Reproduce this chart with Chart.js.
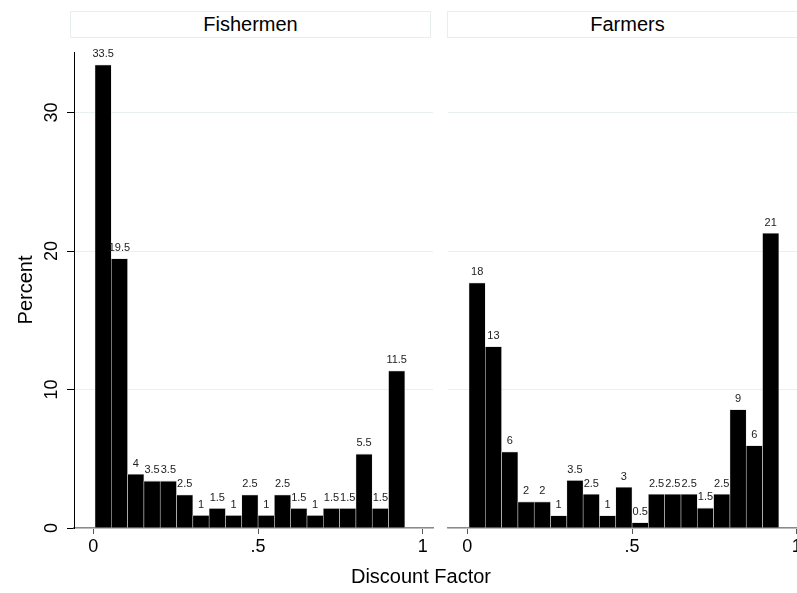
<!DOCTYPE html>
<html>
<head>
<meta charset="utf-8">
<script src="https://cdn.jsdelivr.net/npm/chart.js@4/dist/chart.umd.min.js"></script>
<style>
    html, body { margin: 0; padding: 0; background: #fff; }
    #stage {
        position: relative;
        width: 797px;
        height: 593px;
        overflow: hidden;
        background: #fff;
        font-family: 'Liberation Sans', Arial, sans-serif;
    }
    #stage canvas { position: absolute; top: 40px; }
    .panel-title {
        position: absolute;
        top: 11px;
        height: 25px;
        width: 359px;
        border: 1px solid #e6eef0;
        font-size: 20px;
        line-height: 25px;
        text-align: center;
        color: #000;
    }
    #xtitle {
        position: absolute;
        left: 321px;
        width: 200px;
        top: 564px;
        font-size: 20px;
        line-height: 24px;
        text-align: center;
        color: #000;
    }
</style>
</head>
<body>
<div id="stage">
    <div class="panel-title" style="left:70px">Fishermen</div>
    <div class="panel-title" style="left:447px">Farmers</div>
    <canvas id="fishermen" width="440" height="540" style="left:0px"></canvas>
    <canvas id="farmers" width="380" height="540" style="left:440px"></canvas>
    <div id="xtitle">Discount Factor</div>
</div>
<script>
// bin midpoints of the discount factor histogram (19 bins)
const binMids = [0.0298, 0.0793, 0.1288, 0.1783, 0.2278, 0.2773, 0.3268, 0.3763, 0.4258, 0.4753,
                 0.5248, 0.5743, 0.6238, 0.6733, 0.7228, 0.7723, 0.8218, 0.8713, 0.9208];

// bar heights (percent)
const fishermenPct = [33.45, 19.45, 3.9, 3.4, 3.4, 2.4, 0.92, 1.42, 0.92, 2.4,
                      0.92, 2.4, 1.42, 0.92, 1.42, 1.42, 5.35, 1.42, 11.35];
const farmersPct = [17.7, 13.1, 5.5, 1.9, 1.9, 0.9, 3.45, 2.45, 0.9, 2.95,
                    0.4, 2.45, 2.45, 2.45, 1.45, 2.45, 8.55, 5.95, 21.3];

// marker labels printed above the bars
const fishermenLabels = ['33.5', '19.5', '4', '3.5', '3.5', '2.5', '1', '1.5', '1', '2.5',
                         '1', '2.5', '1.5', '1', '1.5', '1.5', '5.5', '1.5', '11.5'];
const farmersLabels = ['18', '13', '6', '2', '2', '1', '3.5', '2.5', '1', '3',
                       '0.5', '2.5', '2.5', '2.5', '1.5', '2.5', '9', '6', '21'];

const xTicks = [0, 0.5, 1];
const yTicks = [0, 10, 20, 30];
const X_MIN = -0.0586;
const X_MAX = 1.031;
const Y_MAX = 34.37;

const FONT = "'Liberation Sans', Arial, sans-serif";
const GRID_COLOR = '#e8f0f2';

function fmtX(v) {
    if (v === 0) return '0';
    if (v === 1) return '1';
    return String(v).replace(/^0/, '');
}

function noPadding(scale) {
    scale.paddingTop = 0;
    scale.paddingBottom = 0;
    scale.paddingLeft = 0;
    scale.paddingRight = 0;
}

const barLabels = {
    id: 'barLabels',
    afterDatasetsDraw(chart) {
        const labels = chart.options.plugins.barLabels.labels;
        const meta = chart.getDatasetMeta(0);
        const ctx = chart.ctx;
        ctx.save();
        ctx.font = `11px ${FONT}`;
        ctx.fillStyle = '#222';
        ctx.textAlign = 'center';
        ctx.textBaseline = 'middle';
        meta.data.forEach((bar, i) => {
            ctx.fillText(labels[i], bar.x, bar.y - 10.5);
        });
        ctx.restore();
    }
};

function makeChart(canvasId, values, labels, showYAxis) {
    const points = values.map((v, i) => ({ x: binMids[i], y: v }));
    return new Chart(document.getElementById(canvasId), {
        type: 'bar',
        data: {
            datasets: [{
                data: points,
                backgroundColor: '#000',
                borderColor: '#d8d8d8',
                borderWidth: { top: 0.8, left: 0.6, right: 0.6, bottom: 0 },
                borderSkipped: false,
                barPercentage: 1,
                categoryPercentage: 1
            }]
        },
        options: {
            responsive: false,
            animation: false,
            layout: {
                padding: showYAxis ? { top: 12, right: 7, left: 0, bottom: 0 }
                                   : { top: 12, right: 13, left: 0, bottom: 0 }
            },
            plugins: {
                legend: { display: false },
                tooltip: { enabled: false },
                barLabels: { labels }
            },
            scales: {
                x: {
                    type: 'linear',
                    min: X_MIN,
                    max: X_MAX,
                    offset: false,
                    afterBuildTicks: (scale) => { scale.ticks = xTicks.map(v => ({ value: v })); },
                    afterFit: (scale) => { scale.height = 52; noPadding(scale); },
                    grid: {
                        display: true,
                        offset: false,
                        drawOnChartArea: false,
                        drawTicks: true,
                        tickLength: 6,
                        tickColor: '#555',
                        tickWidth: 1
                    },
                    border: { display: true, color: '#8a8a8a', width: 1.5 },
                    ticks: {
                        font: { family: FONT, size: 18 },
                        color: '#000',
                        padding: 2,
                        maxRotation: 0,
                        autoSkip: false,
                        callback: (v) => fmtX(v)
                    }
                },
                y: {
                    min: 0,
                    max: Y_MAX,
                    afterBuildTicks: (scale) => { scale.ticks = yTicks.map(v => ({ value: v })); },
                    afterFit: (scale) => { scale.width = showYAxis ? 74 : 8; noPadding(scale); },
                    grid: {
                        color: GRID_COLOR,
                        lineWidth: 1,
                        drawTicks: showYAxis,
                        tickLength: 7,
                        tickColor: '#000'
                    },
                    border: { display: showYAxis, color: '#000', width: 1 },
                    ticks: {
                        display: showYAxis,
                        font: { family: FONT, size: 18 },
                        color: '#000',
                        padding: 4.5,
                        minRotation: 90,
                        maxRotation: 90,
                        crossAlign: 'center'
                    },
                    title: {
                        display: showYAxis,
                        text: 'Percent',
                        font: { family: FONT, size: 20 },
                        color: '#000',
                        padding: { top: 14, bottom: 0 }
                    }
                }
            }
        },
        plugins: [barLabels]
    });
}

makeChart('fishermen', fishermenPct, fishermenLabels, true);
makeChart('farmers', farmersPct, farmersLabels, false);
</script>
</body>
</html>
